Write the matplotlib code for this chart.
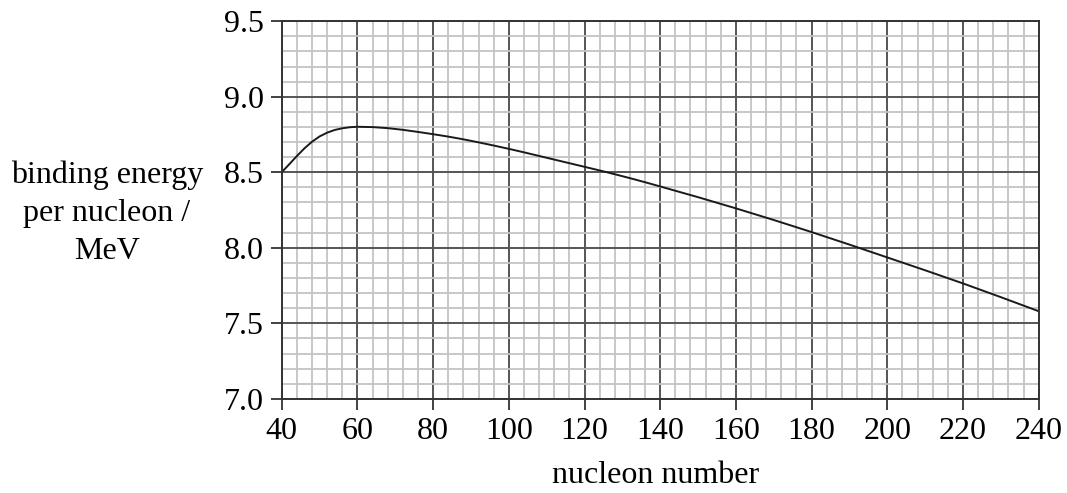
import matplotlib
matplotlib.use("Agg")
import matplotlib.pyplot as plt
from matplotlib.ticker import MultipleLocator

plt.rcParams['font.family'] = ['Liberation Serif', 'DejaVu Serif']

# values
nucleon_number = [40, 42, 44, 46, 48, 50, 52, 54, 56, 58, 60, 64, 68, 72, 76, 80,
                  84, 88, 92, 96, 100, 104, 108, 112, 116, 120, 124, 128, 132, 136,
                  140, 150, 160, 170, 180, 190, 200, 210, 220, 230, 240]
binding_energy = [8.500, 8.553, 8.607, 8.658, 8.702, 8.737, 8.762, 8.780, 8.791, 8.798,
                  8.801, 8.799, 8.792, 8.781, 8.767, 8.752, 8.736, 8.718, 8.698, 8.677,
                  8.655, 8.632, 8.608, 8.584, 8.560, 8.536, 8.512, 8.487, 8.461, 8.434,
                  8.406, 8.335, 8.261, 8.184, 8.104, 8.021, 7.936, 7.851, 7.764, 7.673,
                  7.580]

x_ticks = [40, 60, 80, 100, 120, 140, 160, 180, 200, 220, 240]
y_ticks = [7.0, 7.5, 8.0, 8.5, 9.0, 9.5]

fig = plt.figure(figsize=(10.67, 4.93), dpi=100)
ax = fig.add_axes([0.264, 0.191, 0.7095, 0.766])

ax.set_xlim(40, 240)
ax.set_ylim(7.0, 9.5)
ax.set_xticks(x_ticks)
ax.set_yticks(y_ticks)
ax.set_yticklabels([f"{v:.1f}" for v in y_ticks])
ax.xaxis.set_minor_locator(MultipleLocator(4))
ax.yaxis.set_minor_locator(MultipleLocator(0.1))

ax.grid(which='minor', color='#c4c4c4', linewidth=1.3)
ax.grid(which='major', color='#555555', linewidth=1.4)
ax.set_axisbelow(True)

ax.tick_params(which='major', direction='out', length=8, width=1.3, color='#333333',
               labelsize=23, pad=5)
ax.tick_params(which='minor', length=0)
for s in ax.spines.values():
    s.set_color('#333333')
    s.set_linewidth(1.4)

ax.plot(nucleon_number, binding_energy, color='#1a1a1a', linewidth=1.4)

fig.text(0.614, 0.036, "nucleon number", ha='center', va='center', fontsize=23)
fig.text(0.1, 0.567, "binding energy\nper nucleon /\nMeV", ha='center', va='center',
         fontsize=23, linespacing=1.4)

fig.savefig("out.png", dpi=100)
